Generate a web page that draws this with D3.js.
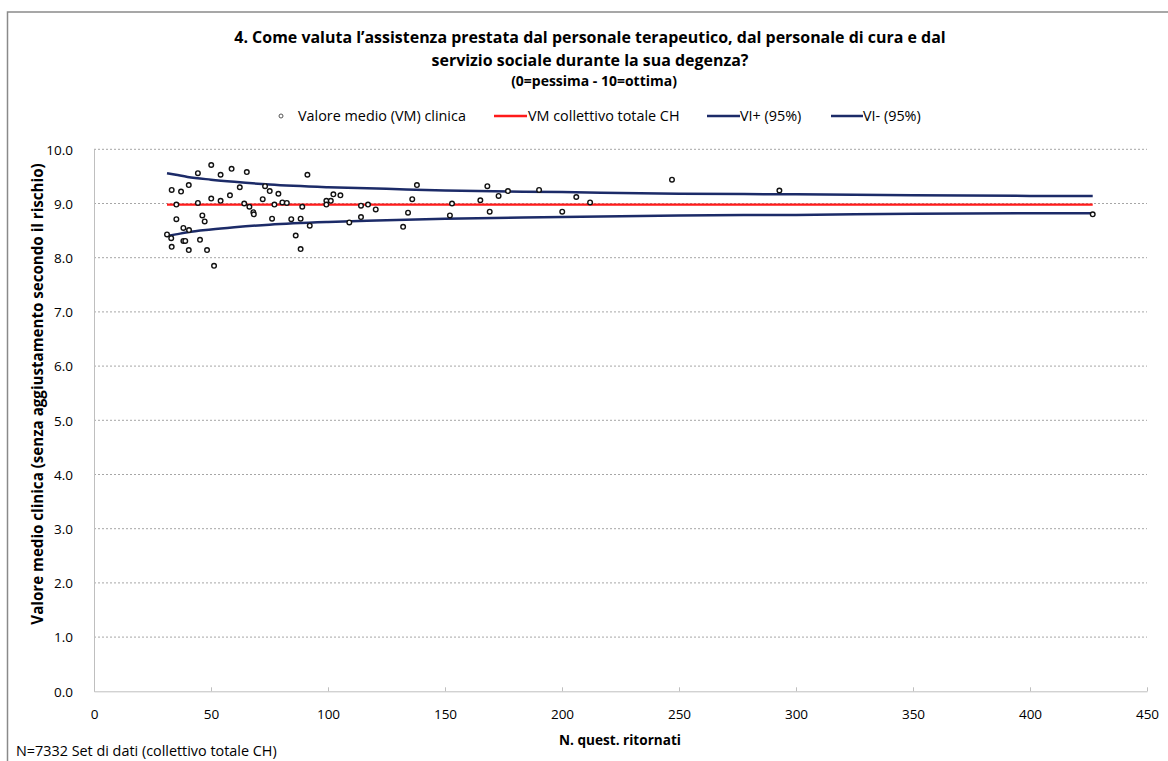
<!DOCTYPE html>
<html><head><meta charset="utf-8">
<script src="https://cdn.jsdelivr.net/npm/d3@7"></script>
<style>
body{margin:0;background:#fff}
svg{display:block}
text{font-family:"Open Sans",Lato,sans-serif;fill:#000}
</style>
</head><body>
<svg id="chart" width="1168" height="761"></svg>
<script>
// ---- data ----
const clinicN = [50.1,58.8,65.3,44.4,54.1,40.5,62.3,33.2,37.2,73.1,75.1,78.8,58.1,50.1,72.1,54.1,44.4,35.2,64.2,66.4,77.1,68.1,68.3,46.3,47.3,35.2,76.1,38.2,40.6,31.2,33.0,38.2,39.0,45.3,33.2,40.5,48.3,51.3,
  91.2,80.5,82.4,84.3,88.3,89.0,92.2,86.2,88.3,99.3,101.2,99.3,102.3,105.3,109.1,114.1,117.1,120.4,114.1,
  138.0,136.0,134.2,132.1,153.0,152.1,168.1,165.1,172.9,176.9,169.1,190.2,200.1,206.1,212.0,
  247.0,292.9,426.8];
const clinicMean = [9.71,9.64,9.58,9.56,9.53,9.34,9.30,9.25,9.22,9.32,9.23,9.18,9.15,9.09,9.08,9.05,9.01,8.98,9.00,8.94,8.98,8.84,8.80,8.78,8.67,8.71,8.72,8.55,8.51,8.43,8.36,8.31,8.31,8.33,8.20,8.14,8.14,7.85,
  9.53,9.02,9.01,8.71,8.72,8.94,8.59,8.41,8.16,9.05,9.05,8.98,9.17,9.15,8.65,8.96,8.98,8.89,8.75,
  9.34,9.08,8.83,8.57,9.00,8.78,9.32,9.06,9.14,9.23,8.85,9.25,8.85,9.12,9.02,
  9.44,9.24,8.80];
const totalN = [31.2, 426.8];
const totalMean = [8.98, 8.98];
const ciN     = [31.2, 35, 40, 50, 60, 75, 100, 125, 150, 200, 250, 300, 350, 400, 426.8];
const ciUpper = [9.56,9.53,9.49,9.44,9.40,9.35,9.30,9.27,9.24,9.21,9.18,9.17,9.15,9.14,9.14];
const ciLower = [8.40,8.43,8.47,8.52,8.56,8.61,8.66,8.69,8.72,8.75,8.78,8.79,8.81,8.82,8.82];
const xTicks = [0,50,100,150,200,250,300,350,400,450];
const yTicks = [0,1,2,3,4,5,6,7,8,9,10];
const titleLines = ["4. Come valuta l\u2019assistenza prestata dal personale terapeutico, dal personale di cura e dal",
                    "servizio sociale durante la sua degenza?"];
const subtitle = "(0=pessima - 10=ottima)";
const legendLabels = ["Valore medio (VM) clinica","VM collettivo totale CH","VI+ (95%)","VI- (95%)"];
const yTitle = "Valore medio clinica (senza aggiustamento secondo il rischio)";
const xTitle = "N. quest. ritornati";
const footnote = "N=7332 Set di dati (collettivo totale CH)";

// ---- layout ----
const svg = d3.select("#chart");
const L = 94, R = 1147, T = 149.3, B = 691.3;
const x = d3.scaleLinear().domain([0,450]).range([L,R]);
const y = d3.scaleLinear().domain([0,10]).range([B,T]);
const navy = "#1c2b68", red = "#ff1a1a";

// size text so that its width matches the reference
function fit(sel, target){
  const w = sel.node().getComputedTextLength();
  const fs = parseFloat(sel.style("font-size"));
  const nfs = fs*target/w;
  sel.style("font-size", nfs+"px");
  return nfs;
}

// frame
svg.append("rect").attr("x",7.5).attr("y",12).attr("width",1200).attr("height",800)
  .attr("fill","none").attr("stroke","#8a8a8a").attr("stroke-width",1.5);

// title
const t1 = svg.append("text").attr("x",590).attr("y",43).attr("text-anchor","middle")
  .style("font-weight","bold").style("font-size","14px").text(titleLines[0]);
const tfs = fit(t1, 712);
svg.append("text").attr("x",590).attr("y",66).attr("text-anchor","middle")
  .style("font-weight","bold").style("font-size",tfs+"px").text(titleLines[1]);
const st = svg.append("text").attr("x",594).attr("y",86).attr("text-anchor","middle")
  .style("font-weight","bold").style("font-size","11px").text(subtitle);
fit(st, 166);

// legend
const lg = svg.append("g");
const ly = 116;
const lt0 = lg.append("text").attr("x",298).attr("y",ly+4.5).style("font-size","12px").text(legendLabels[0]);
const lfs = fit(lt0, 168);
lg.append("circle").attr("cx",281).attr("cy",ly).attr("r",2).attr("fill","#fff").attr("stroke","#555").attr("stroke-width",1);
lg.append("line").attr("x1",494).attr("x2",527).attr("y1",ly).attr("y2",ly).attr("stroke",red).attr("stroke-width",2.5);
lg.append("text").attr("x",528).attr("y",ly+4.5).style("font-size",lfs+"px").text(legendLabels[1]);
lg.append("line").attr("x1",707).attr("x2",740).attr("y1",ly).attr("y2",ly).attr("stroke",navy).attr("stroke-width",2.5);
lg.append("text").attr("x",740).attr("y",ly+4.5).style("font-size",lfs+"px").text(legendLabels[2]);
lg.append("line").attr("x1",831).attr("x2",863).attr("y1",ly).attr("y2",ly).attr("stroke",navy).attr("stroke-width",2.5);
lg.append("text").attr("x",863).attr("y",ly+4.5).style("font-size",lfs+"px").text(legendLabels[3]);

// gridlines
svg.append("g").selectAll("line").data(yTicks.filter(d=>d>0)).join("line")
  .attr("x1",L).attr("x2",R).attr("y1",d=>y(d)).attr("y2",d=>y(d))
  .attr("stroke","#a6a6a6").attr("stroke-width",1).attr("stroke-dasharray","2,2");

const tickFs = lfs*0.94;
// y axis
const yAxis = svg.append("g").attr("transform",`translate(${L},0)`)
  .call(d3.axisLeft(y).tickValues(yTicks).tickFormat(d3.format(".1f")).tickSize(0).tickPadding(21));
yAxis.select(".domain").attr("stroke","#bfbfbf");
yAxis.selectAll("text").style("font-size",tickFs+"px").style("font-family","Open Sans").attr("fill","#262626").attr("dy","0.35em");

// x axis
const xAxis = svg.append("g").attr("transform",`translate(0,${B})`)
  .call(d3.axisBottom(x).tickValues(xTicks).tickSize(-4).tickSizeOuter(0).tickPadding(18));
xAxis.select(".domain").attr("stroke","#bfbfbf");
xAxis.selectAll(".tick line").attr("stroke","#bfbfbf");
xAxis.selectAll("text").style("font-size",tickFs+"px").style("font-family","Open Sans").attr("fill","#262626");

// axis titles
const yt = svg.append("text").attr("transform","translate(43,394) rotate(-90)").attr("text-anchor","middle")
  .style("font-weight","bold").style("font-size","12px").text(yTitle);
fit(yt, 462);
const xt = svg.append("text").attr("x",620).attr("y",745).attr("text-anchor","middle")
  .style("font-weight","bold").style("font-size","12px").text(xTitle);
fit(xt, 122);
const fn = svg.append("text").attr("x",16).attr("y",756).style("font-size","12px").text(footnote);
fit(fn, 261);

// lines
const line = d3.line().x(d=>x(d[0])).y(d=>y(d[1]));
const cline = d3.line().x(d=>x(d[0])).y(d=>y(d[1])).curve(d3.curveMonotoneX);
svg.append("path").datum(d3.zip(totalN,totalMean)).attr("d",line)
  .attr("fill","none").attr("stroke",red).attr("stroke-width",2.2);
svg.append("path").datum(d3.zip(ciN,ciUpper)).attr("d",cline)
  .attr("fill","none").attr("stroke",navy).attr("stroke-width",2.5);
svg.append("path").datum(d3.zip(ciN,ciLower)).attr("d",cline)
  .attr("fill","none").attr("stroke",navy).attr("stroke-width",2.5);

// points
svg.append("g").selectAll("circle").data(d3.zip(clinicN,clinicMean)).join("circle")
  .attr("cx",d=>x(d[0])).attr("cy",d=>y(d[1])).attr("r",2.3)
  .attr("fill","#fff").attr("stroke","#111").attr("stroke-width",1.4);
</script>
</body></html>
